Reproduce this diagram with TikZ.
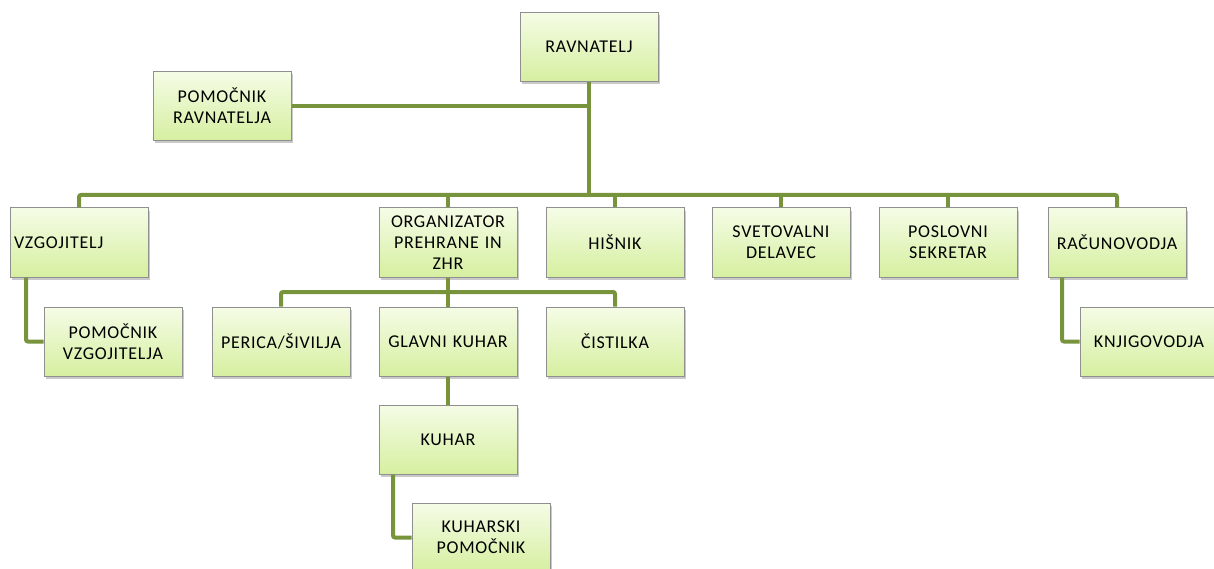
\documentclass[tikz,border=0pt]{standalone}
\usepackage{fontspec}
\setmainfont{Carlito}[LetterSpace=4]
\usetikzlibrary{shadows}
\definecolor{ln}{HTML}{77933C}
\definecolor{bxtop}{HTML}{F5FCE6}
\definecolor{bxbot}{HTML}{D6EFA0}
\definecolor{bxdraw}{HTML}{8F8F8F}
\tikzset{
  box/.style={draw=bxdraw, line width=1pt, top color=bxtop, bottom color=bxbot,
    inner xsep=4pt, inner ysep=0pt, text width=130pt, minimum height=69pt, align=center,
    font=\fontsize{18}{21}\selectfont,
    drop shadow={shadow xshift=2pt, shadow yshift=-3pt, opacity=0.3, fill=black!70}},
  conn/.style={draw=ln, line width=4pt, rounded corners=2pt}
}
\begin{document}
\begin{tikzpicture}[x=1pt,y=-1pt]
\useasboundingbox (0,0) rectangle (1214,569);
\coordinate (bus) at (589,195);
\coordinate (bus2) at (448,292);
\node[box] (rav) at (589,47) {RAVNATELJ};
\node[box] (pr) at (222,106) {POMOČNIK\\RAVNATELJA};
\node[box, align=left] (vz) at (79,242.5) {VZGOJITELJ};
\node[box] (org) at (448,242.5) {ORGANIZATOR\\PREHRANE IN\\ZHR};
\node[box] (his) at (615,242.5) {HIŠNIK};
\node[box] (sv) at (781,242.5) {SVETOVALNI\\DELAVEC};
\node[box] (pos) at (948,242.5) {POSLOVNI\\SEKRETAR};
\node[box] (rac) at (1117,242.5) {RAČUNOVODJA};
\node[box] (pvz) at (113,341.5) {POMOČNIK\\VZGOJITELJA};
\node[box] (per) at (281,341.5) {PERICA/ŠIVILJA};
\node[box] (gk) at (448,341.5) {GLAVNI KUHAR};
\node[box] (cis) at (615,341.5) {ČISTILKA};
\node[box] (kn) at (1149,341.5) {KNJIGOVODJA};
\node[box] (ku) at (448,439.5) {KUHAR};
\node[box] (kp) at (481,537.5) {KUHARSKI\\POMOČNIK};
\draw[conn] (rav.south) -- (rav.south |- bus);
\draw[conn] (pr.east) -- (pr.east -| rav.south);
\draw[conn] (vz.north) |- (bus) -| (rac.north);
\draw[conn] (org.north) -- (org.north |- bus);
\draw[conn] (his.north) -- (his.north |- bus);
\draw[conn] (sv.north) -- (sv.north |- bus);
\draw[conn] (pos.north) -- (pos.north |- bus);
\draw[conn] (org.south) -- (gk.north);
\draw[conn] (per.north) |- (bus2) -| (cis.north);
\draw[conn] ([xshift=-53pt]vz.south) |- (pvz.west);
\draw[conn] ([xshift=-55pt]rac.south) |- (kn.west);
\draw[conn] (gk.south) -- (ku.north);
\draw[conn] ([xshift=-55pt]ku.south) |- (kp.west);
\end{tikzpicture}
\end{document}
